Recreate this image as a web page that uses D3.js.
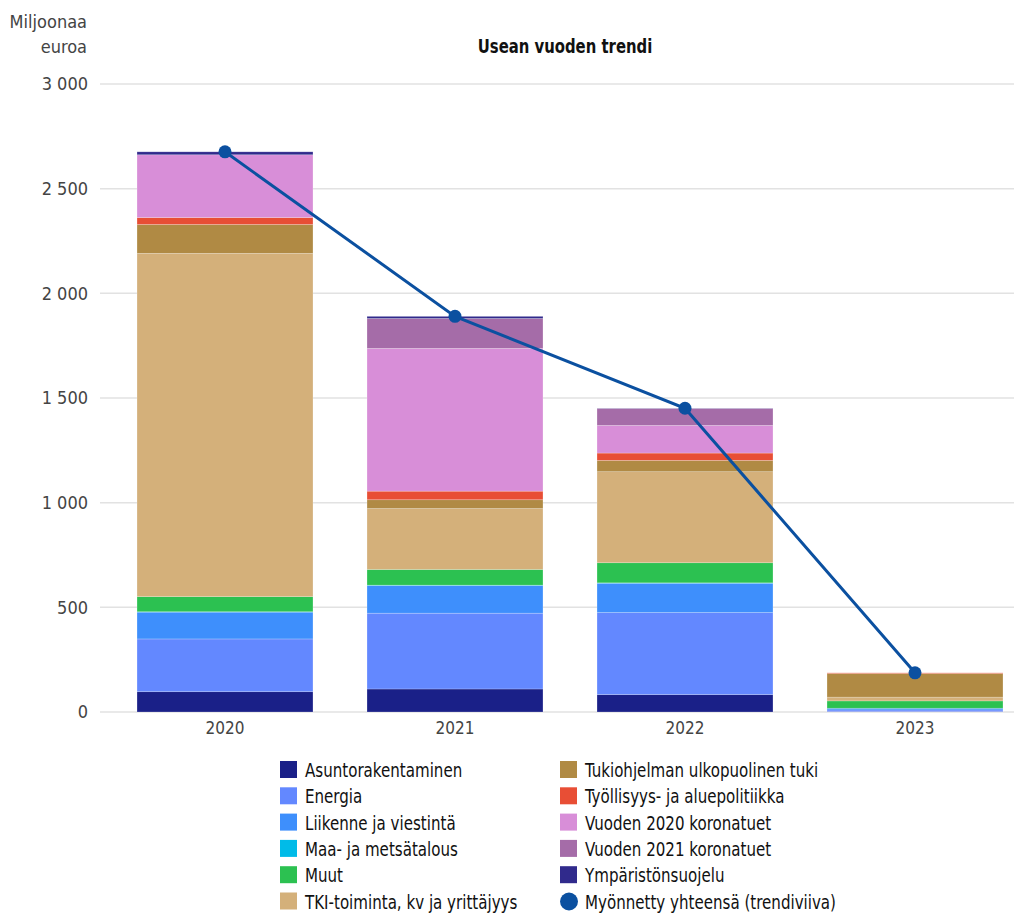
<!DOCTYPE html>
<html lang="fi">
<head>
<meta charset="utf-8">
<script src="https://cdn.jsdelivr.net/npm/d3@7"></script>
<style>
  html, body { margin: 0; padding: 0; background: #fff; }
  svg { display: block; font-family: "Liberation Sans Narrow", "DejaVu Sans Condensed", "Roboto", sans-serif; }
</style>
</head>
<body>
<svg id="chart" width="1014" height="915"></svg>
<script>
// Vuodet (x-akseli)
const years = ["2020", "2021", "2022", "2023"];

// Toimialat pinottuna alhaalta ylös
const categories = [
  "Asuntorakentaminen",
  "Energia",
  "Liikenne ja viestintä",
  "Maa- ja metsätalous",
  "Muut",
  "TKI-toiminta, kv ja yrittäjyys",
  "Tukiohjelman ulkopuolinen tuki",
  "Työllisyys- ja aluepolitiikka",
  "Vuoden 2020 koronatuet",
  "Vuoden 2021 koronatuet",
  "Ympäristönsuojelu"
];

// Myönnetyt tuet, miljoonaa euroa (vuodet 2020–2023)
const asuntorakentaminen = [97, 110, 83, 2];
const energia            = [252, 362, 392, 8];
const liikenne           = [128, 132, 140, 8];
const maaJaMetsatalous   = [2, 2, 2, 0];
const muut               = [72, 75, 96, 35];
const tki                = [1640, 291, 435, 18];
const ulkopuolinenTuki   = [138, 42, 54, 113];
const tyollisyys         = [33, 41, 35, 3];
const korona2020         = [300, 682, 132, 0];
const korona2021         = [0, 143, 81, 0];
const ymparisto          = [14, 10, 1, 0];

const seriesValues = [
  asuntorakentaminen, energia, liikenne, maaJaMetsatalous, muut, tki,
  ulkopuolinenTuki, tyollisyys, korona2020, korona2021, ymparisto
];

const colors = [
  "#1a2088", "#6388ff", "#3e8ffc", "#00bbe8", "#2cc151", "#d4b07a",
  "#b08a44", "#e84e35", "#d88ed8", "#a56ca8", "#302a8c"
];

const yTicks = [0, 500, 1000, 1500, 2000, 2500, 3000];
const trendName = "Myönnetty yhteensä (trendiviiva)";
const trendColor = "#0b50a0";

// Rivit pinottavaksi
const rows = years.map((yr, i) => {
  const r = { year: yr };
  categories.forEach((c, k) => { r[c] = seriesValues[k][i]; });
  return r;
});
const totals = rows.map(r => d3.sum(categories, c => r[c]));

const svg = d3.select("#chart");
const fmt = v => d3.format(",")(v).replace(/,/g, " ");

const x = d3.scaleBand().domain(years).range([110, 1030]).paddingInner(0.235).paddingOuter(0.1175);
const y = d3.scaleLinear().domain([0, 3000]).range([712, 84]);

// Vaakasuorat apuviivat
svg.append("g")
  .selectAll("line")
  .data(yTicks)
  .join("line")
  .attr("x1", 100).attr("x2", 1014)
  .attr("y1", d => y(d)).attr("y2", d => y(d))
  .attr("stroke", "#e2e2e2").attr("stroke-width", 1.5);

// Y-akselin tekstit
const yAxis = svg.append("g")
  .attr("transform", "translate(88,0)")
  .call(d3.axisLeft(y).tickValues(yTicks).tickFormat(fmt).tickSize(0).tickPadding(0));
yAxis.select(".domain").remove();
yAxis.selectAll("text")
  .attr("font-size", 18).attr("fill", "#444")
  .attr("font-family", "Liberation Sans Narrow, DejaVu Sans Condensed, sans-serif");

// Yksikkö
svg.append("text").attr("x", 87).attr("y", 28).attr("text-anchor", "end")
  .attr("font-size", 18).attr("fill", "#444").text("Miljoonaa");
svg.append("text").attr("x", 87).attr("y", 53).attr("text-anchor", "end")
  .attr("font-size", 18).attr("fill", "#444").text("euroa");

// Otsikko (kavennettu)
svg.append("g").attr("transform", "translate(565,53)")
  .append("text").attr("transform", "scale(0.87,1)").attr("text-anchor", "middle")
  .attr("font-size", 19).attr("font-weight", "bold").attr("fill", "#111")
  .text("Usean vuoden trendi");

// Pinotut pylväät
const stacked = d3.stack().keys(categories)(rows);
svg.append("g")
  .selectAll("g")
  .data(stacked)
  .join("g")
  .attr("fill", (d, i) => colors[i])
  .selectAll("rect")
  .data(d => d)
  .join("rect")
  .attr("x", d => x(d.data.year))
  .attr("width", x.bandwidth())
  .attr("y", d => y(d[1]))
  .attr("height", d => Math.max(0, y(d[0]) - y(d[1])))
  .attr("stroke", "rgba(255,255,255,0.3)")
  .attr("stroke-width", 0.7);

// X-akselin tekstit
const xAxis = svg.append("g")
  .attr("transform", "translate(0,712)")
  .call(d3.axisBottom(x).tickSize(0).tickPadding(10));
xAxis.select(".domain").remove();
xAxis.selectAll("text")
  .attr("font-size", 17).attr("fill", "#444")
  .attr("font-family", "Liberation Sans Narrow, DejaVu Sans Condensed, sans-serif");

// Trendiviiva
const line = d3.line()
  .x((d, i) => x(years[i]) + x.bandwidth() / 2)
  .y(d => y(d));
svg.append("path")
  .datum(totals)
  .attr("d", line)
  .attr("fill", "none")
  .attr("stroke", trendColor)
  .attr("stroke-width", 3);
svg.append("g")
  .selectAll("circle")
  .data(totals)
  .join("circle")
  .attr("cx", (d, i) => x(years[i]) + x.bandwidth() / 2)
  .attr("cy", d => y(d))
  .attr("r", 6.5)
  .attr("fill", trendColor);

// Selite
const legendItems = categories.map((c, i) => ({ name: c, color: colors[i], type: "rect" }))
  .concat([{ name: trendName, color: trendColor, type: "circle" }]);
const legend = svg.append("g");
legendItems.forEach((d, i) => {
  const col = i < 6 ? 0 : 1;
  const row = i % 6;
  const lx = col === 0 ? 280 : 560;
  const ly = 770 + row * 26.3;
  const g = legend.append("g").attr("transform", `translate(${lx},${ly})`);
  if (d.type === "rect") {
    g.append("rect").attr("x", 0).attr("y", -9).attr("width", 17).attr("height", 17).attr("fill", d.color);
  } else {
    g.append("circle").attr("cx", 9).attr("cy", 0).attr("r", 9).attr("fill", d.color);
  }
  g.append("g").attr("transform", "translate(25,0)")
    .append("text").attr("transform", "scale(0.86,1)").attr("dy", "0.36em")
    .attr("font-size", 19.5).attr("fill", "#111").text(d.name);
});
</script>
</body>
</html>
